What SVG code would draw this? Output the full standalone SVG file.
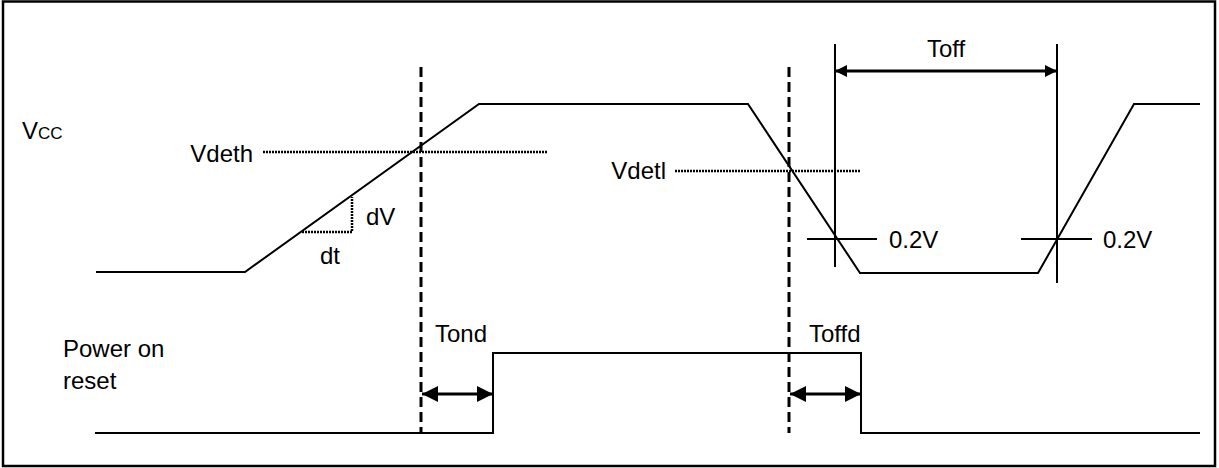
<svg xmlns="http://www.w3.org/2000/svg" width="1219" height="468" viewBox="0 0 1219 468">
<defs>
<style>
text{font-family:"Liberation Sans",Arial,sans-serif;font-size:24px;fill:#000}
.w{fill:none;stroke:#000;stroke-width:2}
.dash{fill:none;stroke:#000;stroke-width:3;stroke-dasharray:10,5}
.dot{fill:none;stroke:#000;stroke-width:2.5;stroke-dasharray:2,1}
.thin{fill:none;stroke:#000;stroke-width:2}
.arr{fill:none;stroke:#000;stroke-width:3}
</style>
<marker id="ah" viewBox="0 0 10 10" refX="10" refY="5" markerUnits="userSpaceOnUse" markerWidth="16" markerHeight="16" orient="auto-start-reverse">
<path d="M0,0 L10,5 L0,10 Z" fill="#000"/>
</marker>
<marker id="ah2" viewBox="0 0 10 10" refX="10" refY="5" markerUnits="userSpaceOnUse" markerWidth="12" markerHeight="13" orient="auto-start-reverse">
<path d="M0,0 L10,5 L0,10 Z" fill="#000"/>
</marker>
</defs>
<rect x="3" y="1.5" width="1212" height="464.5" fill="#fff" stroke="#000" stroke-width="2.5"/>
<g id="vcc">
<polyline class="w" points="96,272 245,272 479,104 748,104 860,273 1038,273 1134,104 1200,104"/>
<text x="22" y="139" font-size="25">V<tspan font-size="17">CC</tspan></text>
</g>
<g id="vdeth">
<line class="dot" x1="263" y1="152" x2="548" y2="152"/>
<text x="253" y="162" text-anchor="end">Vdeth</text>
</g>
<g id="vdetl">
<line class="dot" x1="675" y1="171" x2="861" y2="171"/>
<text x="666" y="179" text-anchor="end">Vdetl</text>
</g>
<g id="slope">
<polyline class="dot" points="302,232 352,232 352,197"/>
<text x="366" y="225">dV</text>
<text x="320" y="264">dt</text>
</g>
<g id="dashed">
<line class="dash" x1="421" y1="67" x2="421" y2="433"/>
<line class="dash" x1="789" y1="67" x2="789" y2="433"/>
</g>
<g id="toff">
<line class="thin" x1="835" y1="44" x2="835" y2="267"/>
<line class="thin" x1="1057" y1="44" x2="1057" y2="283"/>
<line class="arr" x1="835" y1="71" x2="1057" y2="71" stroke-width="2.5" marker-start="url(#ah2)" marker-end="url(#ah2)"/>
<text x="946" y="57" text-anchor="middle">Toff</text>
</g>
<g id="th1">
<line class="thin" x1="807" y1="239" x2="877" y2="239"/>
<text x="889" y="248">0.2V</text>
</g>
<g id="th2">
<line class="thin" x1="1021" y1="239" x2="1092" y2="239"/>
<text x="1103" y="248">0.2V</text>
</g>
<g id="por">
<polyline class="w" points="95,433 493,433 493,353 861,353 861,433 1200,433"/>
<text x="63" y="357" font-size="25.5">Power on</text>
<text x="63" y="389" font-size="25.5">reset</text>
</g>
<g id="connectors">
<line class="arr" x1="422" y1="394" x2="493" y2="394" marker-start="url(#ah)" marker-end="url(#ah)"/>
<line class="arr" x1="790" y1="394" x2="861" y2="394" marker-start="url(#ah)" marker-end="url(#ah)"/>
</g>
<g id="labels">
<text x="435" y="342">Tond</text>
<text x="809" y="342">Toffd</text>
</g>
</svg>
